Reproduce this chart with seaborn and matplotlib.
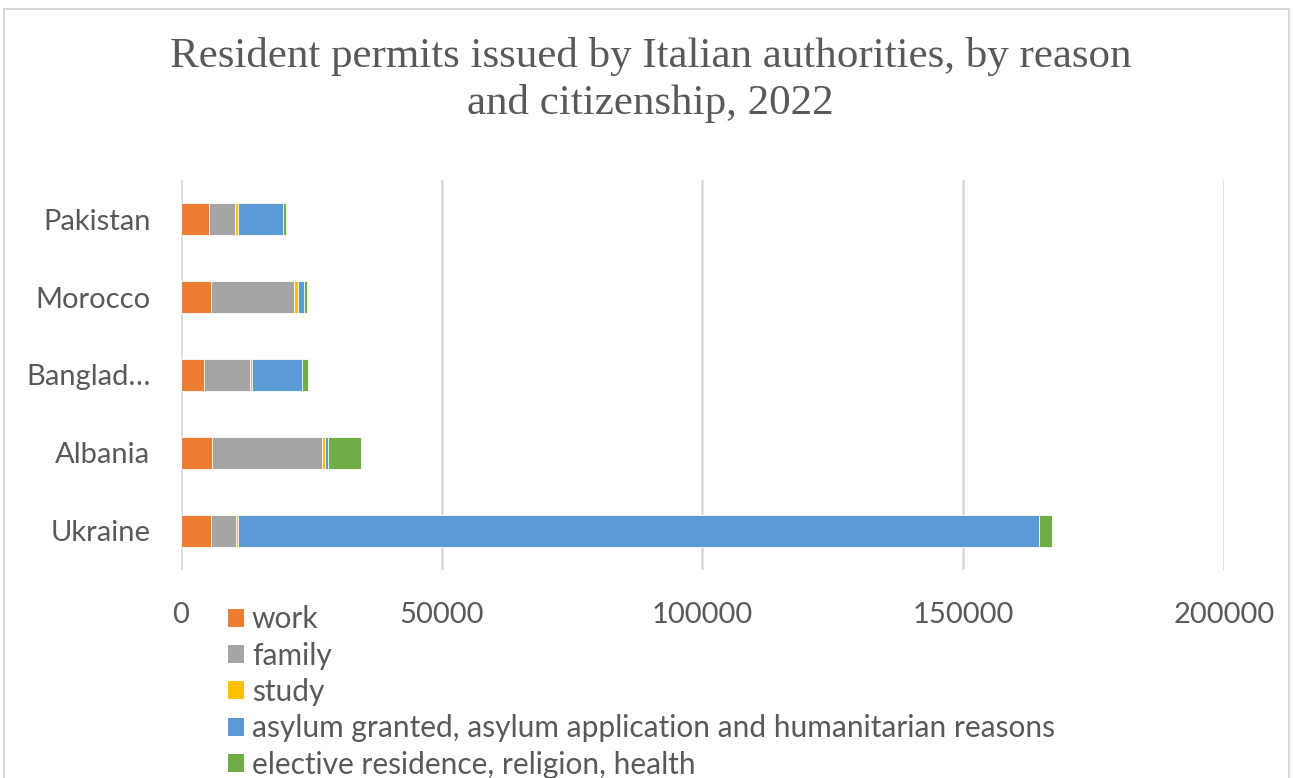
import matplotlib
matplotlib.use("Agg")
import matplotlib.pyplot as plt
import matplotlib.patches as mpatches
import seaborn as sns
import pandas as pd
import numpy as np

countries = ["Pakistan", "Morocco", "Banglad…", "Albania", "Ukraine"]
reasons = ["work", "family", "study",
           "asylum granted, asylum application and humanitarian reasons",
           "elective residence, religion, health"]
work = [5430, 5700, 4350, 6000, 5700]
family = [4870, 16030, 8880, 21040, 4850]
study = [630, 650, 330, 510, 380]
asylum = [8570, 1150, 9580, 640, 153600]
elective = [580, 570, 1210, 6380, 2490]
colors = ["#ED7D31", "#A5A5A5", "#FFC000", "#5B9BD5", "#70AD47"]
xticks = [0, 50000, 100000, 150000, 200000]

df = pd.DataFrame({"country": countries, reasons[0]: work, reasons[1]: family,
                   reasons[2]: study, reasons[3]: asylum, reasons[4]: elective})
cum = df[reasons].cumsum(axis=1)
cum["country"] = df["country"]

sns.set_theme(style="white")
plt.rcParams["font.family"] = ["Lato", "DejaVu Sans"]

fig = plt.figure(figsize=(12.93, 7.78), dpi=100)
ax = fig.add_axes([0.140, 0.2674, 0.8066, 0.5012])

for r, c in zip(reversed(reasons), reversed(colors)):
    sns.barplot(data=cum, y="country", x=r, order=countries, color=c,
                orient="h", width=0.4, ax=ax, saturation=1,
                edgecolor="white", linewidth=0.6)

ax.set_xlim(0, 200000)
ax.set_ylim(4.5, -0.5)
ax.set_xticks(xticks)
ax.set_xticklabels([str(t) for t in xticks])
ax.set_xlabel("")
ax.set_ylabel("")
ax.grid(axis="x", color="#d9d9d9", linewidth=1.8)
ax.set_axisbelow(True)
for s in ["top", "right", "bottom", "left"]:
    ax.spines[s].set_visible(False)
ax.tick_params(axis="both", length=0, labelsize=21, colors="#595959")
ax.tick_params(axis="x", pad=23)
ax.tick_params(axis="y", pad=22)

fig.suptitle("Resident permits issued by Italian authorities, by reason\nand citizenship, 2022",
             x=0.503, y=0.952, fontsize=31, color="#595959",
             family="Liberation Serif", linespacing=1.25)

handles = [mpatches.Patch(facecolor=c, edgecolor="none") for c in colors]
fig.legend(handles, reasons, loc="upper left", bbox_to_anchor=(0.1763, 0.222),
           frameon=False, fontsize=21.5, labelcolor="#595959",
           handlelength=0.55, handleheight=0.55, handletextpad=0.25,
           labelspacing=0.28, borderpad=0, borderaxespad=0)

border = mpatches.Rectangle((4 / 1293, -0.05), 1285 / 1293, 1.05 - 9 / 778,
                            transform=fig.transFigure, fill=False,
                            edgecolor="#d9d9d9", linewidth=1.5)
fig.patches.append(border)

fig.savefig("out.png", dpi=100, facecolor="white")
